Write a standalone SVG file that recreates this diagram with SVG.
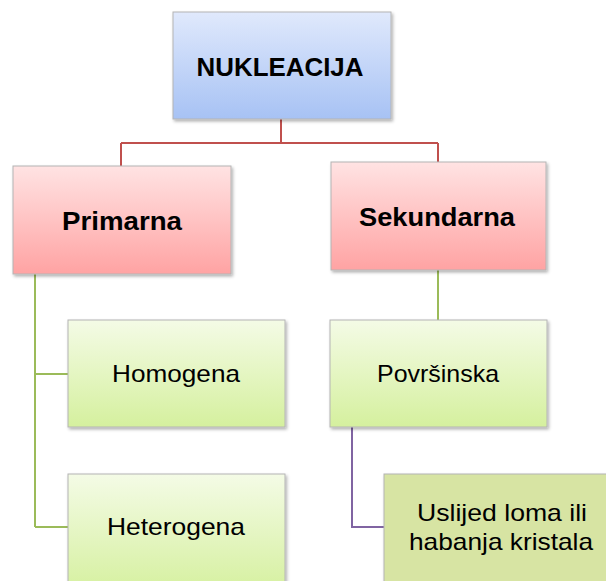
<svg xmlns="http://www.w3.org/2000/svg" width="606" height="581" viewBox="0 0 606 581">
<style>
.box{stroke:#b4b4b4;stroke-width:1;filter:url(#sh)}
.t{font-family:"Liberation Sans",Arial,sans-serif;fill:#000;text-anchor:middle}
.b{font-weight:bold;font-size:26px}
.r{font-size:24px}
.c{fill:none;stroke-width:2}
</style>
<defs>
<linearGradient id="gb" x1="0" y1="0" x2="0" y2="1"><stop offset="0" stop-color="#e0e9fc"/><stop offset="1" stop-color="#a7c2f4"/></linearGradient>
<linearGradient id="gr" x1="0" y1="0" x2="0" y2="1"><stop offset="0" stop-color="#ffe3e3"/><stop offset="1" stop-color="#ffa3a3"/></linearGradient>
<linearGradient id="gg" x1="0" y1="0" x2="0" y2="1"><stop offset="0" stop-color="#f4fbe6"/><stop offset="1" stop-color="#d5f09e"/></linearGradient>
<filter id="sh" x="-5%" y="-5%" width="115%" height="115%"><feDropShadow dx="1.5" dy="2" stdDeviation="1.5" flood-color="#000" flood-opacity="0.3"/></filter>
</defs>
<g id="connectors">
<path class="c" stroke="#c0504d" d="M281 119V143M121 143H438M121 143V166M438 143V162"/>
<path class="c" stroke="#9bbb59" d="M35 274V527M35 374H68M35 527H68M438 270V320"/>
<path class="c" stroke="#8064a2" d="M352 427V527H384"/>
</g>
<g id="nukleacija"><rect class="box" x="173" y="12" width="218" height="107" fill="url(#gb)"/><text class="t b" x="280" y="76" textLength="167" lengthAdjust="spacingAndGlyphs">NUKLEACIJA</text></g>
<g id="primarna"><rect class="box" x="13" y="166" width="218" height="108" fill="url(#gr)"/><text class="t b" x="122" y="230" textLength="120" lengthAdjust="spacingAndGlyphs">Primarna</text></g>
<g id="sekundarna"><rect class="box" x="331" y="162" width="215" height="108" fill="url(#gr)"/><text class="t b" x="437" y="226" textLength="156" lengthAdjust="spacingAndGlyphs">Sekundarna</text></g>
<g id="homogena"><rect class="box" x="68" y="320" width="217" height="107" fill="url(#gg)"/><text class="t r" x="176" y="382" textLength="128" lengthAdjust="spacingAndGlyphs">Homogena</text></g>
<g id="heterogena"><rect class="box" x="68" y="474" width="217" height="120" fill="url(#gg)"/><text class="t r" x="176" y="535" textLength="138" lengthAdjust="spacingAndGlyphs">Heterogena</text></g>
<g id="povrsinska"><rect class="box" x="330" y="320" width="217" height="107" fill="url(#gg)"/><text class="t r" x="438" y="382" textLength="122" lengthAdjust="spacingAndGlyphs">Površinska</text></g>
<g id="uslijed"><rect class="box" x="384" y="474" width="240" height="120" fill="#d7e4a3"/><text class="t r" x="502" y="521" textLength="170" lengthAdjust="spacingAndGlyphs">Uslijed loma ili</text><text class="t r" x="501" y="550" textLength="184" lengthAdjust="spacingAndGlyphs">habanja kristala</text></g>
</svg>
